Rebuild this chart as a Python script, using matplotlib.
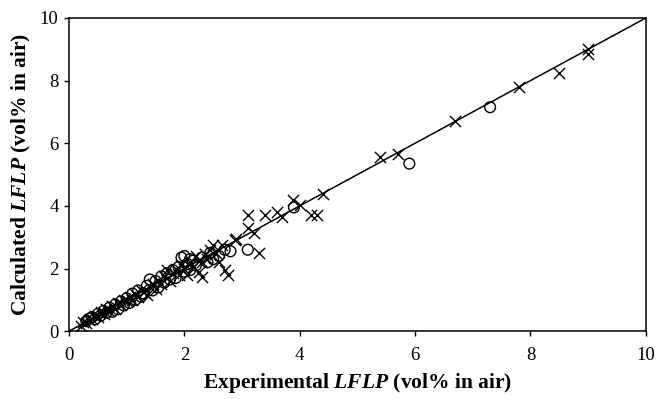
import matplotlib
matplotlib.use('Agg')
import matplotlib.pyplot as plt

# Experimental vs calculated LFLP, two sets of compounds
cross_x = [0.2, 0.25, 0.3, 0.35, 0.4, 0.45, 0.5, 0.55, 0.6, 0.65, 0.7, 0.75, 0.8,
           0.85, 0.9, 0.95, 1.0, 1.05, 1.1, 1.15, 1.2, 1.25, 1.3, 1.35, 1.4, 1.45,
           1.5, 1.55, 1.6, 1.65, 1.7, 1.75, 1.8, 1.85, 1.9, 1.95, 2.0, 2.05, 2.1,
           2.15, 2.2, 2.25, 2.3, 2.35, 2.4, 2.45, 2.5, 2.55, 2.6, 2.65, 2.7, 2.75,
           2.3, 2.9, 2.88, 3.1, 3.2, 3.3, 3.1, 3.4, 3.6, 3.7, 3.88, 4.0, 4.2, 4.3,
           4.4, 5.4, 5.7, 6.7, 7.8, 8.5, 9.0, 9.0]
cross_y = [0.18, 0.3, 0.25, 0.35, 0.38, 0.5, 0.45, 0.6, 0.55, 0.7, 0.65, 0.8, 0.72,
           0.9, 0.85, 1.0, 0.95, 1.1, 1.0, 1.2, 1.1, 1.3, 1.25, 1.15, 1.4, 1.5,
           1.35, 1.6, 1.5, 1.75, 1.95, 1.6, 1.85, 2.0, 1.8, 2.1, 2.0, 1.8, 2.2,
           2.05, 2.4, 1.9, 2.2, 2.45, 2.3, 2.6, 2.75, 2.5, 2.2, 2.75, 1.95, 1.8,
           1.72, 2.95, 2.9, 3.3, 3.15, 2.5, 3.7, 3.72, 3.8, 3.65, 4.18, 4.02, 3.7, 3.7,
           4.38, 5.55, 5.65, 6.7, 7.8, 8.25, 9.0, 8.85]

circle_x = [0.3, 0.35, 0.4, 0.45, 0.5, 0.55, 0.6, 0.65, 0.7, 0.75, 0.8, 0.85, 0.9,
            0.95, 1.0, 1.05, 1.1, 1.15, 1.2, 1.25, 1.3, 1.35, 1.4, 1.45, 1.5, 1.55,
            1.6, 1.65, 1.7, 1.75, 1.8, 1.85, 1.9, 1.95, 2.0, 2.0, 2.05, 2.1, 2.1,
            2.15, 2.2, 2.3, 2.4, 2.45, 2.5, 2.6, 2.7, 2.8, 3.1, 3.9, 5.9, 7.3]
circle_y = [0.32, 0.4, 0.45, 0.38, 0.55, 0.5, 0.65, 0.58, 0.75, 0.62, 0.85, 0.7, 0.95,
            0.82, 1.05, 0.9, 1.2, 1.0, 1.3, 1.1, 1.2, 1.45, 1.65, 1.3, 1.6, 1.4,
            1.75, 1.55, 1.85, 1.65, 1.95, 1.7, 2.05, 2.35, 2.4, 1.9, 2.15, 1.95, 2.3,
            2.25, 2.1, 2.35, 2.2, 2.5, 2.3, 2.4, 2.6, 2.55, 2.6, 3.95, 5.35, 7.15]

line_x = [0, 10]
line_y = [0, 10]

plt.rcParams['font.family'] = 'Liberation Serif'
plt.rcParams['mathtext.fontset'] = 'custom'
plt.rcParams['mathtext.rm'] = 'Liberation Serif:bold'
plt.rcParams['mathtext.bfit'] = 'Liberation Serif:italic:bold'

fig = plt.figure(figsize=(6.57, 3.99), dpi=100)
ax = fig.add_axes([0.105, 0.170, 0.878, 0.785])

ax.plot(line_x, line_y, color='black', lw=1.1)
ax.scatter(cross_x, cross_y, marker='x', s=65, color='black', linewidths=1.0)
ax.scatter(circle_x, circle_y, marker='o', s=60, facecolors='none',
           edgecolors='black', linewidths=1.0)

ax.set_xlim(0, 10)
ax.set_ylim(0, 10)
ax.set_xticks([0, 2, 4, 6, 8, 10])
ax.set_yticks([0, 2, 4, 6, 8, 10])
ax.tick_params(direction='out', length=3.5, width=1, labelsize=13.5)
ax.tick_params(axis='x', pad=8)
ax.tick_params(axis='y', pad=4)
for s in ax.spines.values():
    s.set_linewidth(1.1)

ax.set_xlabel(r'Experimental $\mathbfit{LFLP}$ (vol% in air)', fontsize=15.5,
              fontweight='bold', labelpad=5)
ax.set_ylabel(r'Calculated $\mathbfit{LFLP}$ (vol% in air)', fontsize=15.5,
              fontweight='bold', labelpad=5)

fig.savefig('out.png', dpi=100)
